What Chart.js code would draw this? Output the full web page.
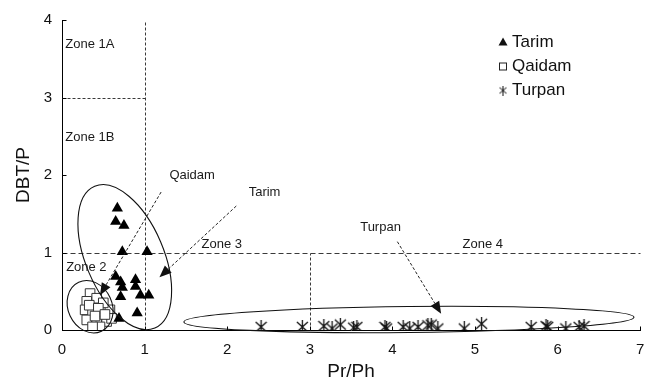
<!DOCTYPE html>
<html>
<head>
<meta charset="utf-8">
<script src="https://cdn.jsdelivr.net/npm/chart.js@4/dist/chart.umd.min.js"></script>
<style>
  html, body { margin: 0; padding: 0; background: #fff; }
  #wrap { width: 648px; height: 385px; position: relative; }
</style>
</head>
<body>
<div id="wrap"><canvas id="zones"></canvas></div>
<script>
// Tarim samples
var tarimPr = [0.67, 0.65, 0.75, 0.73, 1.03, 0.65, 0.71, 0.89, 0.89, 0.95, 1.05, 0.71, 0.91, 0.69, 0.73];
var tarimDbt = [1.57, 1.40, 1.35, 1.01, 1.01, 0.69, 0.62, 0.65, 0.56, 0.45, 0.45, 0.43, 0.22, 0.15, 0.55];
// Qaidam samples
var qaidamPr = [0.34, 0.42, 0.30, 0.28, 0.37, 0.48, 0.58, 0.30, 0.42, 0.54, 0.60, 0.46, 0.37, 0.33, 0.50, 0.44, 0.40, 0.52];
var qaidamDbt = [0.47, 0.41, 0.37, 0.26, 0.22, 0.24, 0.26, 0.13, 0.11, 0.11, 0.15, 0.04, 0.04, 0.32, 0.35, 0.28, 0.18, 0.20];
// Turpan samples
var turpanPr = [2.41, 2.91, 3.17, 3.27, 3.37, 3.53, 3.57, 3.91, 3.93, 4.13, 4.21, 4.31, 4.43, 4.47, 4.55, 4.87, 5.08, 5.68, 5.86, 5.88, 6.10, 6.26, 6.32];
var turpanDbt = [0.04, 0.04, 0.05, 0.02, 0.07, 0.03, 0.04, 0.04, 0.02, 0.04, 0.02, 0.04, 0.06, 0.07, 0.02, 0.02, 0.08, 0.04, 0.05, 0.04, 0.02, 0.04, 0.05];

var xTicks = [0, 1, 2, 3, 4, 5, 6, 7];
var yTicks = [0, 1, 2, 3, 4];

function pts(xs, ys) {
  return xs.map(function (x, i) { return { x: x, y: ys[i] }; });
}

// asterisk marker: an X crossed by a vertical bar
function makeStar(w, h, lw) {
  var c = document.createElement('canvas');
  c.width = w; c.height = h;
  var g = c.getContext('2d');
  g.strokeStyle = '#111';
  g.lineWidth = lw;
  g.beginPath();
  g.moveTo(1, 2); g.lineTo(w - 1, h - 2);
  g.moveTo(w - 1, 2); g.lineTo(1, h - 2);
  g.moveTo(w / 2, 0); g.lineTo(w / 2, h);
  g.stroke();
  return c;
}
var starBig = makeStar(13, 14, 1.3);
var starSmall = makeStar(9, 10, 1);

var FONT = '"Liberation Sans", Arial, sans-serif';

// zone boundaries, in data units
var zoneLines = [
  { x1: 1, y1: 0, x2: 1, y2: 4, dash: [3, 2] },
  { x1: 0, y1: 3, x2: 1, y2: 3, dash: [3, 2] },
  { x1: 0, y1: 1, x2: 7, y2: 1, dash: [5, 3] },
  { x1: 3, y1: 0, x2: 3, y2: 1, dash: [3, 2] }
];

var notes = [
  { text: 'Zone 1A', x: 0.04, y: 3.68 },
  { text: 'Zone 1B', x: 0.04, y: 2.49 },
  { text: 'Zone 2', x: 0.05, y: 0.81 },
  { text: 'Zone 3', x: 1.69, y: 1.10 },
  { text: 'Zone 4', x: 4.85, y: 1.10 },
  { text: 'Qaidam', x: 1.30, y: 1.99 },
  { text: 'Tarim', x: 2.26, y: 1.77 },
  { text: 'Turpan', x: 3.61, y: 1.33 }
];

var arrows = [
  { x1: 1.20, y1: 1.78, x2: 0.46, y2: 0.45 },
  { x1: 2.11, y1: 1.60, x2: 1.18, y2: 0.68 },
  { x1: 4.06, y1: 1.14, x2: 4.59, y2: 0.21 }
];

// group outlines: centre in data units, radii in px, tilt in degrees
var groups = [
  { cx: 0.76, cy: 0.94, rx: 39, ry: 77, rot: -23 },
  { cx: 0.34, cy: 0.30, rx: 22, ry: 27, rot: -25 },
  { cx: 4.20, cy: 0.135, rx: 225, ry: 13, rot: -0.6 }
];

var decor = {
  id: 'decor',
  beforeDatasetsDraw: function (chart) {
    var ctx = chart.ctx, xs = chart.scales.x, ys = chart.scales.y;
    ctx.save();
    ctx.strokeStyle = '#3a3a3a';
    ctx.lineWidth = 1;
    zoneLines.forEach(function (l) {
      ctx.setLineDash(l.dash);
      ctx.beginPath();
      ctx.moveTo(Math.round(xs.getPixelForValue(l.x1)) + 0.5, Math.round(ys.getPixelForValue(l.y1)) + 0.5);
      ctx.lineTo(Math.round(xs.getPixelForValue(l.x2)) + 0.5, Math.round(ys.getPixelForValue(l.y2)) + 0.5);
      ctx.stroke();
    });
    ctx.setLineDash([]);
    // inward tick marks
    ctx.strokeStyle = '#000';
    var x0 = Math.round(xs.getPixelForValue(0)) + 0.5;
    var y0 = Math.round(ys.getPixelForValue(0)) + 0.5;
    ctx.beginPath();
    xTicks.forEach(function (t) {
      var px = Math.round(xs.getPixelForValue(t)) + 0.5;
      ctx.moveTo(px, y0); ctx.lineTo(px, y0 - 4);
    });
    yTicks.forEach(function (t) {
      var py = Math.round(ys.getPixelForValue(t)) + 0.5;
      ctx.moveTo(x0, py); ctx.lineTo(x0 + 4, py);
    });
    ctx.stroke();
    ctx.restore();
  },
  afterDatasetsDraw: function (chart) {
    var ctx = chart.ctx, xs = chart.scales.x, ys = chart.scales.y;
    ctx.save();
    // outlines
    ctx.strokeStyle = '#111';
    ctx.lineWidth = 1.1;
    groups.forEach(function (e) {
      ctx.beginPath();
      ctx.ellipse(xs.getPixelForValue(e.cx), ys.getPixelForValue(e.cy), e.rx, e.ry, e.rot * Math.PI / 180, 0, Math.PI * 2);
      ctx.stroke();
    });
    // dashed pointers
    arrows.forEach(function (a) {
      var ax = xs.getPixelForValue(a.x1), ay = ys.getPixelForValue(a.y1);
      var bx = xs.getPixelForValue(a.x2), by = ys.getPixelForValue(a.y2);
      var ang = Math.atan2(by - ay, bx - ax);
      var hl = 12, hw = 5;
      var sx = bx - Math.cos(ang) * hl, sy = by - Math.sin(ang) * hl;
      ctx.setLineDash([3, 2]);
      ctx.strokeStyle = '#222';
      ctx.lineWidth = 1;
      ctx.beginPath();
      ctx.moveTo(ax, ay); ctx.lineTo(sx, sy);
      ctx.stroke();
      ctx.setLineDash([]);
      ctx.fillStyle = '#111';
      ctx.beginPath();
      ctx.moveTo(bx, by);
      ctx.lineTo(sx - Math.sin(ang) * hw, sy + Math.cos(ang) * hw);
      ctx.lineTo(sx + Math.sin(ang) * hw, sy - Math.cos(ang) * hw);
      ctx.closePath();
      ctx.fill();
    });
    // zone and group names
    ctx.fillStyle = '#1a1a1a';
    ctx.font = '13px ' + FONT;
    ctx.textBaseline = 'middle';
    ctx.textAlign = 'left';
    notes.forEach(function (n) {
      ctx.fillText(n.text, xs.getPixelForValue(n.x), ys.getPixelForValue(n.y));
    });
    // legend
    var lx = 503, ly = 42, step = 24;
    ctx.font = '17px ' + FONT;
    chart.data.datasets.forEach(function (ds, i) {
      var cy = ly + i * step;
      ctx.fillStyle = '#111';
      ctx.strokeStyle = '#222';
      ctx.lineWidth = 1;
      if (i === 0) {
        ctx.beginPath();
        ctx.moveTo(lx, cy - 4.5); ctx.lineTo(lx + 4.5, cy + 3.5); ctx.lineTo(lx - 4.5, cy + 3.5);
        ctx.closePath(); ctx.fill();
      } else if (i === 1) {
        ctx.strokeRect(lx - 3.5, cy - 3, 7, 7);
      } else {
        ctx.drawImage(starSmall, lx - 4.5, cy - 4.5);
      }
      ctx.fillStyle = '#111';
      ctx.fillText(ds.label, lx + 9, cy);
    });
    ctx.restore();
  }
};

new Chart(document.getElementById('zones'), {
  type: 'scatter',
  data: {
    datasets: [
      {
        label: 'Tarim',
        data: pts(tarimPr, tarimDbt),
        pointStyle: 'triangle',
        pointRadius: 6.5,
        backgroundColor: '#000',
        borderColor: '#000',
        borderWidth: 0
      },
      {
        label: 'Qaidam',
        data: pts(qaidamPr, qaidamDbt),
        pointStyle: 'rect',
        pointRadius: 6.8,
        backgroundColor: '#fff',
        borderColor: '#333',
        borderWidth: 1
      },
      {
        label: 'Turpan',
        data: pts(turpanPr, turpanDbt),
        pointStyle: starBig
      }
    ]
  },
  options: {
    responsive: true,
    maintainAspectRatio: false,
    animation: false,
    layout: { padding: { left: 0, right: 3, top: 20, bottom: 0 } },
    plugins: {
      legend: { display: false },
      tooltip: { enabled: false }
    },
    scales: {
      x: {
        type: 'linear',
        min: 0, max: 7,
        afterBuildTicks: function (s) { s.ticks = xTicks.map(function (v) { return { value: v }; }); },
        afterFit: function (s) { s.height = 55; s.paddingLeft = 0; s.paddingRight = 0; },
        grid: { display: false, drawTicks: false },
        border: { display: true, color: '#000', width: 1 },
        ticks: { color: '#111', padding: 11, font: { family: FONT, size: 15 }, maxRotation: 0 },
        title: { display: true, text: 'Pr/Ph', color: '#111', font: { family: FONT, size: 19 }, padding: { top: 0, bottom: 2 } }
      },
      y: {
        type: 'linear',
        min: 0, max: 4,
        afterBuildTicks: function (s) { s.ticks = yTicks.map(function (v) { return { value: v }; }); },
        afterFit: function (s) { s.width = 62; s.paddingTop = 0; s.paddingBottom = 0; },
        grid: { display: false, drawTicks: false },
        border: { display: true, color: '#000', width: 1 },
        ticks: { color: '#111', padding: 10, font: { family: FONT, size: 15 } },
        title: { display: true, text: 'DBT/P', color: '#111', font: { family: FONT, size: 19 }, padding: { top: 12, bottom: 0 } }
      }
    }
  },
  plugins: [decor]
});
</script>
</body>
</html>
